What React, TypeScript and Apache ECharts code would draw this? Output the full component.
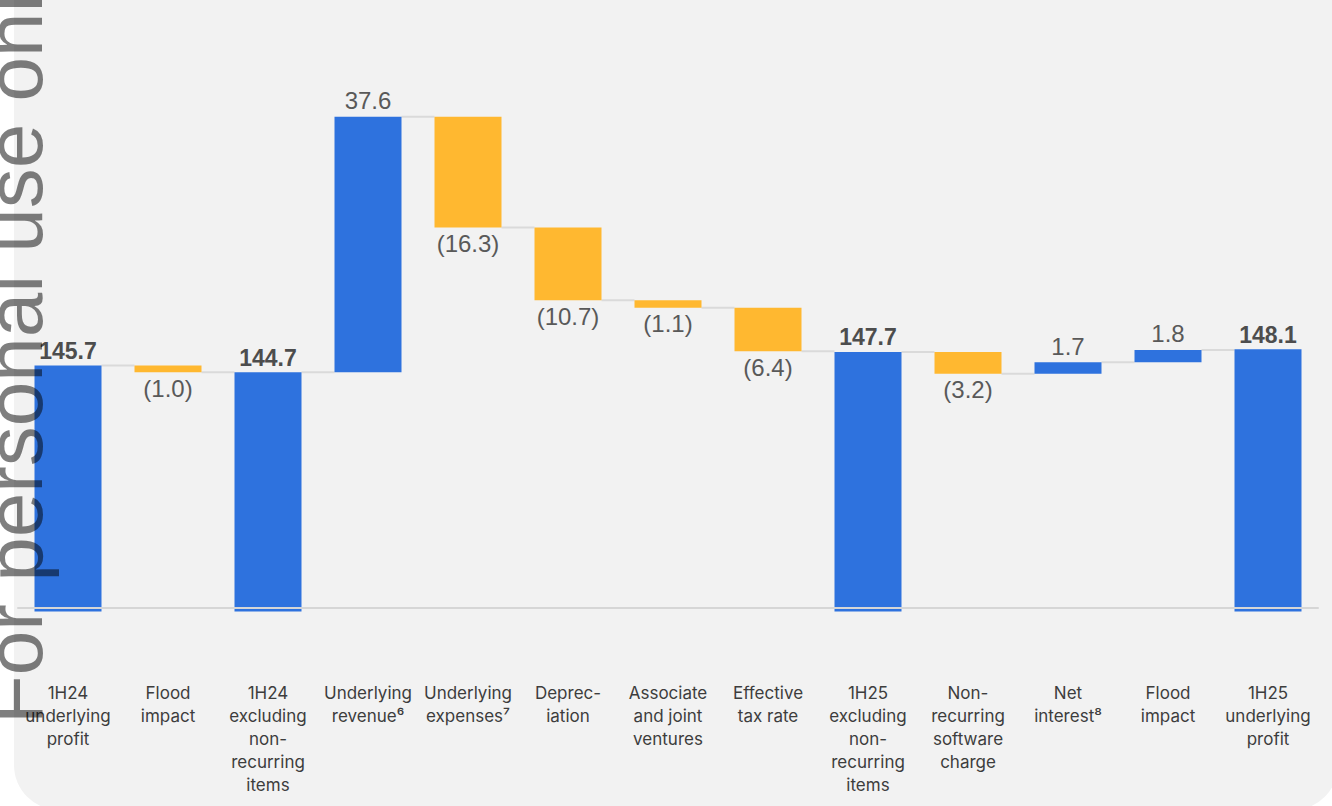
import React, { useEffect, useRef } from 'react';
import * as echarts from 'echarts';

const categories = [
  '1H24\nunderlying\nprofit',
  'Flood\nimpact',
  '1H24\nexcluding\nnon-\nrecurring\nitems',
  'Underlying\nrevenue⁶',
  'Underlying\nexpenses⁷',
  'Deprec-\niation',
  'Associate\nand joint\nventures',
  'Effective\ntax rate',
  '1H25\nexcluding\nnon-\nrecurring\nitems',
  'Non-\nrecurring\nsoftware\ncharge',
  'Net\ninterest⁸',
  'Flood\nimpact',
  '1H25\nunderlying\nprofit',
];

const changes = [145.7, -1.0, 144.7, 37.6, -16.3, -10.7, -1.1, -6.4, 147.7, -3.2, 1.7, 1.8, 148.1];
const isTotal = [true, false, true, false, false, false, false, false, true, false, false, false, true];

const yMin = 109.5;
const yMax = 199.5;

const BLUE = '#2e72de';
const YELLOW = '#ffb830';

export default function App() {
  const ref = useRef<HTMLDivElement>(null);

  useEffect(() => {
    const chart = echarts.init(ref.current!, null, { renderer: 'svg' });

    let running = 0;
    const baseData: number[] = [];
    const visData: any[] = [];
    const connectors: number[][] = [];

    changes.forEach((v, i) => {
      if (isTotal[i]) {
        baseData.push(0);
        running = v;
        visData.push({
          value: v,
          itemStyle: { color: BLUE },
          label: {
            position: 'top',
            distance: 3,
            formatter: v.toFixed(1),
            fontWeight: 'bold',
            fontSize: 23,
            color: '#4d4d4d',
          },
        });
      } else {
        const start = running;
        const end = running + v;
        baseData.push(Math.min(start, end));
        running = end;
        visData.push({
          value: Math.abs(v),
          itemStyle: { color: v < 0 ? YELLOW : BLUE },
          label: {
            position: v < 0 ? 'bottom' : 'top',
            distance: 4,
            formatter: v < 0 ? `(${Math.abs(v).toFixed(1)})` : v.toFixed(1),
            fontWeight: 'normal',
            fontSize: 24,
            color: '#595959',
          },
        });
      }
      if (i < changes.length - 1) connectors.push([i, running]);
    });

    chart.setOption({
      animation: false,
      backgroundColor: '#ffffff',
      graphic: [
        {
          type: 'rect',
          z: -10,
          shape: { x: 14, y: -60, width: 1324, height: 870, r: [0, 0, 45, 45] },
          style: { fill: '#f2f2f2' },
        },
        {
          type: 'text',
          z: 100,
          x: 14,
          y: 724,
          rotation: Math.PI / 2,
          style: {
            text: 'For personal use only',
            fontSize: 80,
            fontFamily: '"Liberation Sans", Arial, sans-serif',
            fill: 'rgba(0,0,0,0.5)',
            textAlign: 'left',
            textVerticalAlign: 'middle',
          },
        },
      ],
      grid: { left: 18, right: 14, top: 0, bottom: 194.5 },
      xAxis: {
        type: 'category',
        data: categories,
        offset: -4,
        z: 10,
        axisLine: { show: true, lineStyle: { color: '#d6d6d6', width: 2 } },
        axisTick: { show: false },
        axisLabel: {
          interval: 0,
          margin: 74,
          fontSize: 17,
          lineHeight: 23,
          fontFamily: 'Inter, sans-serif',
          color: '#3d3d3d',
          align: 'center',
        },
      },
      yAxis: {
        type: 'value',
        min: yMin,
        max: yMax,
        show: false,
        splitLine: { show: false },
      },
      series: [
        {
          type: 'custom',
          z: 1,
          data: connectors,
          renderItem: (params: any, api: any) => {
            const i = api.value(0);
            const v = api.value(1);
            const p = api.coord([i, v]);
            const band = api.size([1, 0])[0];
            const half = (band * 0.67) / 2;
            return {
              type: 'line',
              shape: { x1: p[0] + half, y1: p[1], x2: p[0] + band - half, y2: p[1] },
              style: { stroke: '#dadada', lineWidth: 2 },
            };
          },
        },
        {
          type: 'bar',
          stack: 'wf',
          barWidth: '67%',
          z: 2,
          itemStyle: { color: 'transparent' },
          emphasis: { disabled: true },
          data: baseData,
          silent: true,
        },
        {
          type: 'bar',
          stack: 'wf',
          barWidth: '67%',
          z: 2,
          data: visData,
          label: {
            show: true,
            fontFamily: '"Liberation Sans", Arial, sans-serif',
          },
        },
      ],
    });

    return () => chart.dispose();
  }, []);

  return (
    <div
      ref={ref}
      style={{ position: 'fixed', left: 0, top: 0, width: 1332, height: 806 }}
    />
  );
}
